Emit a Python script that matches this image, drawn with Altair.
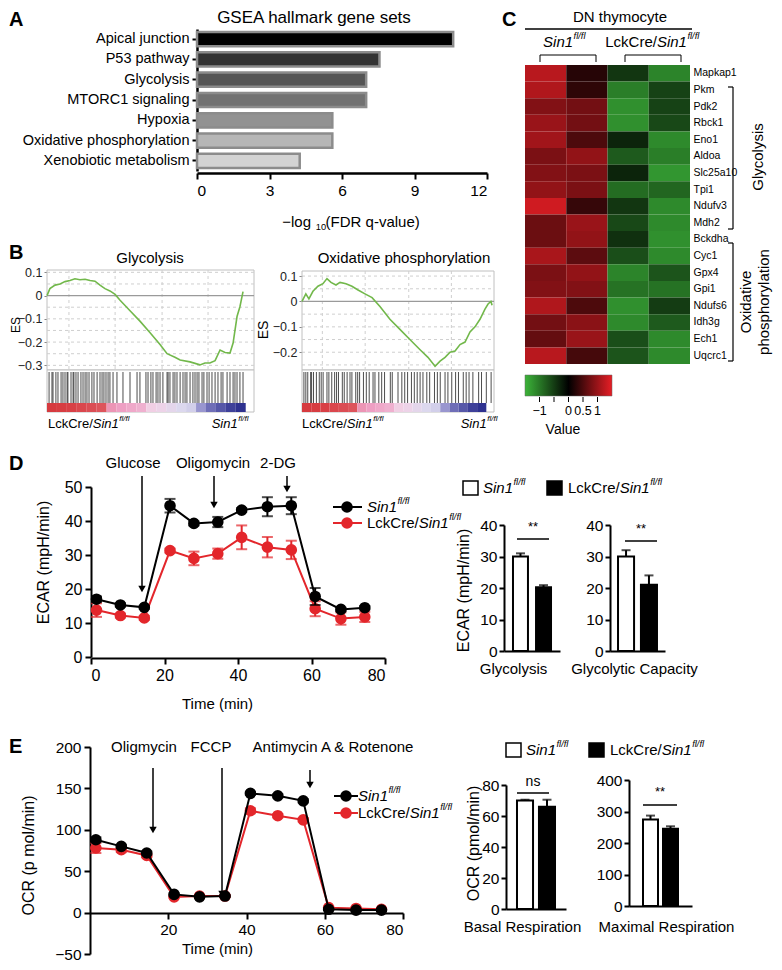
import altair as alt
import pandas as pd

# ---------------- values ----------------
# A: GSEA hallmark gene sets
gsea_sets = ["Apical junction", "P53 pathway", "Glycolysis", "MTORC1 signaling",
             "Hypoxia", "Oxidative phosphorylation", "Xenobiotic metabolism"]
gsea_neglog10_fdr = [10.6, 7.55, 7.0, 7.0, 5.6, 5.6, 4.25]
gsea_ticks = [0, 3, 6, 9, 12]

# B: enrichment plots (rank fraction, running enrichment score)
gly_rank = [0.0, 0.014, 0.039, 0.063, 0.087, 0.111, 0.135, 0.159, 0.184, 0.208, 0.232, 0.256,
            0.280, 0.304, 0.329, 0.353, 0.401, 0.449, 0.498, 0.546, 0.580, 0.618, 0.643, 0.691,
            0.739, 0.763, 0.787, 0.812, 0.836, 0.860, 0.884, 0.899, 0.918, 0.932, 0.947]
gly_es = [0.0, 0.03, 0.045, 0.05, 0.06, 0.065, 0.072, 0.068, 0.07, 0.065, 0.062, 0.045,
          0.03, 0.02, 0.005, -0.02, -0.065, -0.11, -0.16, -0.21, -0.25, -0.265, -0.277, -0.285,
          -0.298, -0.29, -0.29, -0.28, -0.234, -0.245, -0.247, -0.204, -0.09, -0.048, 0.017]
gly_hits = [0.010, 0.024, 0.029, 0.043, 0.053, 0.068, 0.077, 0.087, 0.097, 0.101, 0.116, 0.126,
            0.130, 0.140, 0.150, 0.164, 0.174, 0.184, 0.193, 0.203, 0.217, 0.227, 0.242, 0.256,
            0.266, 0.275, 0.285, 0.295, 0.304, 0.319, 0.338, 0.367, 0.401, 0.435, 0.449, 0.478,
            0.488, 0.502, 0.512, 0.527, 0.536, 0.546, 0.560, 0.580, 0.585, 0.594, 0.609, 0.618,
            0.628, 0.643, 0.657, 0.667, 0.676, 0.691, 0.705, 0.715, 0.725, 0.734, 0.749, 0.758,
            0.773, 0.783, 0.797, 0.812, 0.826, 0.841, 0.850, 0.870, 0.884, 0.899, 0.908, 0.918,
            0.932, 0.947]
oxp_rank = [0.0, 0.02, 0.036, 0.057, 0.083, 0.109, 0.130, 0.151, 0.177, 0.198, 0.229, 0.260,
            0.292, 0.328, 0.365, 0.406, 0.458, 0.51, 0.562, 0.615, 0.656, 0.693, 0.719, 0.745,
            0.771, 0.797, 0.823, 0.849, 0.875, 0.901, 0.927, 0.953, 0.969, 0.984, 0.99]
oxp_es = [0.0, 0.03, 0.01, 0.04, 0.06, 0.07, 0.09, 0.075, 0.065, 0.075, 0.07, 0.06,
          0.045, 0.03, 0.015, -0.02, -0.07, -0.11, -0.15, -0.19, -0.22, -0.255, -0.235, -0.22,
          -0.2, -0.195, -0.17, -0.16, -0.12, -0.1, -0.07, -0.03, -0.01, 0.0, -0.015]
oxp_hits = [0.01, 0.02, 0.03, 0.045, 0.05, 0.06, 0.075, 0.09, 0.1, 0.11, 0.13, 0.14, 0.155, 0.17,
            0.18, 0.19, 0.21, 0.22, 0.235, 0.25, 0.26, 0.28, 0.29, 0.3, 0.32, 0.335, 0.35, 0.37,
            0.38, 0.4, 0.415, 0.43, 0.46, 0.47, 0.5, 0.52, 0.535, 0.55, 0.57, 0.585, 0.6, 0.615,
            0.63, 0.65, 0.665, 0.69, 0.705, 0.72, 0.745, 0.76, 0.78, 0.8, 0.815, 0.84, 0.855,
            0.87, 0.89, 0.92, 0.935, 0.96, 0.985]
es_grid_rank = [0.106, 0.329, 0.556, 0.778]
rank_metric = [1.0, 0.98, 0.95, 0.9, 0.85, 0.8, 0.45, 0.4, 0.35, 0.3,
               0.12, 0.08, 0.04, 0.0, -0.05, -0.35, -0.6, -0.75, -0.9, -1.0]

# C: heat map (z-scores)
genes = ["Mapkap1", "Pkm", "Pdk2", "Rbck1", "Eno1", "Aldoa", "Slc25a10", "Tpi1", "Ndufv3",
         "Mdh2", "Bckdha", "Cyc1", "Gpx4", "Gpi1", "Ndufs6", "Idh3g", "Ech1", "Uqcrc1"]
samples = ["Sin1 #1", "Sin1 #2", "LckCre #1", "LckCre #2"]
z_sin1_a = [1.2, 1.15, 0.85, 1.0, 1.05, 0.8, 0.85, 0.95, 1.35, 0.7, 0.7, 1.1, 0.8, 0.85, 1.15, 0.75, 0.65, 1.2]
z_sin1_b = [0.25, 0.3, 0.75, 0.75, 0.5, 0.95, 0.8, 0.8, 0.35, 1.0, 0.95, 0.6, 0.95, 0.85, 0.5, 0.9, 1.0, 0.45]
z_lck_a = [-0.45, -1.05, -1.2, -1.2, -0.3, -0.75, -0.3, -0.9, -0.45, -0.6, -0.4, -0.65, -1.1, -0.95, -1.2, -1.15, -0.65, -0.7]
z_lck_b = [-1.1, -0.55, -0.55, -0.6, -1.15, -1.05, -1.25, -0.85, -1.15, -1.15, -1.2, -1.15, -0.7, -0.95, -0.5, -0.75, -1.15, -1.15]
z_ticks = [-1, -0.5, 0, 0.5, 1]
z_tick_labels = ["\u22121", "", "0", "0.5", "1"]

# D: ECAR
seahorse_time = [1.5, 8, 14.5, 21.5, 28, 34.5, 41, 48, 54.5, 61, 68, 74.5]
ecar_sin1 = [17.0, 15.3, 14.6, 44.5, 39.3, 39.7, 43.2, 44.2, 44.5, 17.8, 14.0, 14.5]
ecar_sin1_sd = [0.8, 0.5, 0.5, 2.0, 0.6, 1.5, 0.6, 2.8, 2.5, 2.5, 0.5, 0.5]
ecar_lck = [13.8, 12.2, 11.5, 31.3, 29.0, 30.4, 35.2, 32.3, 31.5, 14.2, 11.3, 11.8]
ecar_lck_sd = [2.0, 0.6, 0.6, 0.6, 2.0, 1.5, 3.5, 3.0, 2.7, 2.2, 1.8, 1.5]
glycolysis_mean = [30.0, 20.2]
glycolysis_sd = [1.0, 0.7]
capacity_mean = [30.0, 21.0]
capacity_sd = [2.0, 3.0]

# E: OCR
ocr_sin1 = [88, 80, 72, 22, 19, 20, 144, 141, 135, 4, 3, 3]
ocr_sin1_sd = [3, 2, 2, 1, 1, 1, 2, 2, 2, 1, 1, 1]
ocr_lck = [78, 76, 69, 19, 20, 20, 123, 117, 112, 6, 5, 4]
ocr_lck_sd = [6, 3, 2, 1, 1, 1, 3, 2, 2, 1, 1, 1]
basal_mean = [70.0, 66.0]
basal_sd = [0.5, 4.5]
maximal_mean = [275.0, 245.0]
maximal_sd = [12.0, 8.0]

genotypes = ["Sin1", "LckCre"]

# ---------------- layout helpers ----------------
W, H = 766, 954
FONT = "Liberation Sans"
RED = "#e3262b"
ONE = pd.DataFrame({"k": [0]})


def px(x):
    return x - 8


def py(y):
    return y - 8


AW = {' ': 278, '/': 278, '1': 556, '0': 556, 'C': 722, 'L': 556, 'S': 667, 'c': 500, 'e': 556,
      'f': 278, 'i': 222, 'k': 500, 'l': 222, 'n': 556, 'r': 333, '\u2212': 584, 'o': 556,
      'g': 556, '(': 333, ')': 333, 'F': 611, 'D': 722, 'R': 722, 'q': 556, '-': 333, 'v': 500,
      'a': 556, 'u': 556}


def tw(s, size):
    return sum(AW.get(ch, 556) for ch in s) * size / 1000.0


def T(s, x, y, size=15, align="center", style="normal", weight="normal", angle=0,
      baseline="middle", color="black"):
    return alt.Chart(ONE).mark_text(text=s, font=FONT, fontSize=size, align=align,
                                    baseline=baseline, fontStyle=style, fontWeight=weight,
                                    angle=angle, color=color).encode(
        x=alt.value(px(x)), y=alt.value(py(y)))


def rich(parts, x, y, size=15, anchor="left"):
    ws = []
    for s, k in parts:
        fs = size * 0.62 if k in ("sup", "sub") else size
        ws.append(tw(s, fs))
    total = sum(ws)
    cx = x if anchor == "left" else (x - total / 2 if anchor == "center" else x - total)
    out = []
    for (s, k), w in zip(parts, ws):
        if k == "n":
            out.append(T(s, cx, y, size, align="left"))
        elif k == "i":
            out.append(T(s, cx, y, size, align="left", style="italic"))
        elif k == "sup":
            out.append(T(s, cx + 0.5, y - size * 0.38, size * 0.62, align="left", style="italic"))
        elif k == "sub":
            out.append(T(s, cx + 0.5, y + size * 0.32, size * 0.62, align="left"))
        cx += w
    return out


SIN1 = [("Sin1", "i"), ("fl/fl", "sup")]
LCK = [("LckCre/", "n"), ("Sin1", "i"), ("fl/fl", "sup")]


def S(x1, y1, x2, y2, color="black", w=1.5):
    return alt.Chart(ONE).mark_rule(color=color, strokeWidth=w).encode(
        x=alt.value(px(x1)), x2=alt.value(px(x2)), y=alt.value(py(y1)), y2=alt.value(py(y2)))


def BOX(x1, y1, x2, y2, fill="white", stroke="black", w=1.0, fill_opacity=1.0):
    return alt.Chart(ONE).mark_rect(fill=fill, fillOpacity=fill_opacity, stroke=stroke,
                                    strokeWidth=w).encode(
        x=alt.value(px(x1)), x2=alt.value(px(x2)), y=alt.value(py(y1)), y2=alt.value(py(y2)))


def ARROW(x, y1, y2, w=1.5):
    return [S(x, y1, x, y2 - 5, w=w),
            alt.Chart(ONE).mark_point(shape="triangle-down", filled=True, size=55, color="black",
                                      opacity=1, strokeWidth=0).encode(
                x=alt.value(px(x)), y=alt.value(py(y2 - 3)))]


layers = []

# ---------------- panel letters ----------------
for s, x, y, b in [("A", 9, 10, "top"), ("B", 9, 253, "middle"), ("C", 502, 10, "top"),
                   ("D", 9, 464, "middle"), ("E", 9, 747, "middle")]:
    layers.append(T(s, x, y, size=20, align="left", weight="bold", baseline=b))

# ---------------- A ----------------
A_PALETTE = ["#000000", "#333333", "#555555", "#727272", "#929292", "#b6b6b6", "#d3d3d3"]
dfA = pd.DataFrame({"set": gsea_sets, "score": gsea_neglog10_fdr})
xA = alt.Scale(domain=[0, 12], range=[px(197), px(487)], nice=False, zero=True)
yA = alt.Scale(domain=gsea_sets, range=[py(29), py(171)], paddingInner=0.3, paddingOuter=0.15)
layers.append(alt.Chart(dfA).mark_bar(stroke="#8c8c8c", strokeWidth=2.5).encode(
    x=alt.X("score:Q", scale=xA,
            axis=alt.Axis(orient="bottom", offset=py(173) - H, values=gsea_ticks, title=None,
                          labelFontSize=15.5, tickSize=6, labelPadding=4, domainWidth=2.5)),
    y=alt.Y("set:N", scale=yA,
            axis=alt.Axis(orient="left", offset=-px(197), title=None, labelFontSize=14.5,
                          tickSize=5, labelPadding=3, domainWidth=2.5)),
    fill=alt.Fill("set:N", scale=alt.Scale(domain=gsea_sets, range=A_PALETTE), legend=None)))
layers.append(T("GSEA hallmark gene sets", 314, 10, size=17, baseline="top"))
layers += rich([("\u2212log ", "n"), ("10", "sub"), ("(FDR q-value)", "n")], 351, 222, size=15,
               anchor="center")


# ---------------- B ----------------
def gsea_layers(rank, es, hits, dom, ticks, grid_y, x0, x1, ytop, ybot):
    xs = alt.Scale(domain=[0, 1], range=[px(x0), px(x1)], nice=False, zero=False)
    ys = alt.Scale(domain=dom, range=[py(ybot), py(ytop)], nice=False, zero=False)
    g = []
    g.append(alt.Chart(pd.DataFrame({"g": grid_y})).mark_rule(
        color="#cfcfcf", strokeDash=[3, 3], strokeWidth=1).encode(
        y=alt.Y("g:Q", scale=ys, axis=None), x=alt.value(px(x0)), x2=alt.value(px(x1))))
    g.append(alt.Chart(pd.DataFrame({"g": es_grid_rank})).mark_rule(
        color="#cfcfcf", strokeDash=[3, 3], strokeWidth=1).encode(
        x=alt.X("g:Q", scale=xs, axis=None), y=alt.value(py(ytop)), y2=alt.value(py(ybot))))
    g.append(alt.Chart(pd.DataFrame({"g": [0.0]})).mark_rule(color="#9a9a9a", strokeWidth=1.2).encode(
        y=alt.Y("g:Q", scale=ys, axis=None), x=alt.value(px(x0)), x2=alt.value(px(x1))))
    g.append(alt.Chart(pd.DataFrame({"h": hits})).mark_rule(
        color="#111111", strokeWidth=1, opacity=0.75).encode(
        x=alt.X("h:Q", scale=xs, axis=None), y=alt.value(py(ybot + 2)), y2=alt.value(py(ybot + 33))))
    n = len(rank_metric)
    cells = pd.DataFrame({"a": [i * 0.96 / n for i in range(n)],
                          "b": [(i + 1) * 0.96 / n for i in range(n)],
                          "m": rank_metric})
    g.append(alt.Chart(cells).mark_rect().encode(
        x=alt.X("a:Q", scale=xs, axis=None), x2="b:Q",
        y=alt.value(py(ybot + 33)), y2=alt.value(py(ybot + 42)),
        color=alt.Color("m:Q", legend=None, scale=alt.Scale(
            domain=[-1, -0.4, 0, 0.1, 0.4, 0.75, 1],
            range=["#2e318f", "#8f8dcb", "#dcd8ee", "#f1d2e6", "#ee9fc3", "#df5a62", "#d63a3f"],
            interpolate="rgb"))))
    g.append(alt.Chart(pd.DataFrame({"r": rank, "es": es})).mark_line(
        color="#72b84b", strokeWidth=1.6).encode(
        x=alt.X("r:Q", scale=xs, axis=None),
        y=alt.Y("es:Q", scale=ys,
                axis=alt.Axis(orient="left", offset=-px(x0), values=ticks, format=".1~f",
                              title=None, domain=False, tickSize=3, tickWidth=1,
                              tickColor="#888888", labelFontSize=12.5, labelPadding=2,
                              labelColor="#222222"))))
    return g


layers.append(BOX(47, 270, 254, 370, stroke="#c0c0c0"))
layers.append(BOX(47, 370, 254, 412, stroke="#c0c0c0"))
layers += gsea_layers(gly_rank, gly_es, gly_hits, [-0.32, 0.11], [0.1, 0, -0.1, -0.2, -0.3],
                      [0.1, 0.05, -0.05, -0.1, -0.15, -0.2, -0.25, -0.3], 47, 254, 270, 370)
layers.append(BOX(302, 271, 494, 370, stroke="#c0c0c0", fill_opacity=0))
layers.append(BOX(302, 370, 494, 412, stroke="#c0c0c0"))
layers += gsea_layers(oxp_rank, oxp_es, oxp_hits, [-0.27, 0.12], [0.1, 0, -0.1, -0.2],
                      [0.1, 0.05, -0.05, -0.1, -0.15, -0.2, -0.25], 302, 494, 271, 370)
layers.append(T("Glycolysis", 150, 258, size=15))
layers.append(T("Oxidative phosphorylation", 404, 258, size=15))
layers.append(T("ES", 16, 325, size=12, angle=270))
layers.append(T("ES", 264, 330, size=14, angle=270))
layers += rich(LCK, 48, 424, size=13)
layers += rich(SIN1, 248, 424, size=13, anchor="right")
layers += rich(LCK, 302, 424, size=13)
layers += rich(SIN1, 497, 424, size=13, anchor="right")

# ---------------- C ----------------
rows = []
for i, gname in enumerate(genes):
    for s, col in zip(samples, [z_sin1_a, z_sin1_b, z_lck_a, z_lck_b]):
        rows.append({"gene": gname, "sample": s, "z": col[i]})
dfC = pd.DataFrame(rows)
xC = alt.Scale(domain=samples, range=[px(525), px(690)], paddingInner=0, paddingOuter=0)
yC = alt.Scale(domain=genes, range=[py(65), py(364)], paddingInner=0, paddingOuter=0)
zC = alt.Scale(domain=[-1.5, 0, 1.5], range=["#3cb439", "#000000", "#e61e25"], interpolate="rgb")
layers.append(alt.Chart(dfC).mark_rect().encode(
    x=alt.X("sample:N", scale=xC, axis=None),
    y=alt.Y("gene:N", scale=yC,
            axis=alt.Axis(orient="right", offset=px(690) - W, domain=False, ticks=False,
                          labelFontSize=10.5, labelPadding=3, title=None)),
    color=alt.Color("z:Q", scale=zC,
                    legend=alt.Legend(orient="none", legendX=px(525), legendY=py(375),
                                      direction="horizontal", gradientLength=87,
                                      gradientThickness=21, title=None, labelOpacity=0,
                                      labelFontSize=1,
                                      gradientStrokeColor="#666666", gradientStrokeWidth=0.5))))
# colour-bar ticks and labels placed on the same value axis as the gradient
zbar = alt.Scale(domain=[-1.5, 1.5], range=[px(525), px(612)], nice=False, zero=False)
dfZ = pd.DataFrame({"v": z_ticks, "lab": z_tick_labels})
layers.append(alt.Chart(dfZ).mark_rule(color="black", strokeWidth=1).encode(
    x=alt.X("v:Q", scale=zbar, axis=None), y=alt.value(py(397)), y2=alt.value(py(402))))
layers.append(alt.Chart(dfZ).mark_text(font=FONT, fontSize=12.5, baseline="middle").encode(
    x=alt.X("v:Q", scale=zbar, axis=None), y=alt.value(py(411)), text="lab:N"))
layers.append(T("Value", 563, 430, size=14))
layers.append(T("DN thymocyte", 620, 10, size=15, baseline="top"))
layers.append(S(525, 29, 692, 29, w=1.5))
layers += rich(SIN1, 564, 42, size=15, anchor="center")
layers += rich(LCK, 652, 42, size=15, anchor="center")
for a, b in [(540, 596), (625, 681)]:
    layers += [S(a, 55, b, 55, w=1), S(a, 55, a, 62, w=1), S(b, 55, b, 62, w=1)]
for a, b in [(87, 229), (243, 361)]:
    layers += [S(733, a, 733, b, w=1.2), S(728, a, 733, a, w=1.2), S(728, b, 733, b, w=1.2)]
layers.append(T("Glycolysis", 758, 157, size=15, angle=270))
layers.append(T("Oxidative", 746, 302, size=15, angle=270))
layers.append(T("phosphorylation", 764, 302, size=15, angle=270))


# ---------------- D / E line charts ----------------
def seahorse(series, xr, yr, ydom, yticks, xticks, xaxis_y, ytitle, ytitle_x, ytitle_y,
             xtitle_x, xtitle_y, label_size=16):
    xs = alt.Scale(domain=[0, 80], range=[px(xr[0]), px(xr[1])], nice=False, zero=False)
    ys = alt.Scale(domain=ydom, range=[py(yr[0]), py(yr[1])], nice=False, zero=False)
    g = []
    last = len(series) - 1
    for k, (mean, sd, col) in enumerate(series):
        df = pd.DataFrame({"t": seahorse_time, "m": mean,
                           "lo": [m - s for m, s in zip(mean, sd)],
                           "hi": [m + s for m, s in zip(mean, sd)]})
        if k == last:
            xax = alt.Axis(orient="bottom", offset=py(xaxis_y) - H, values=xticks,
                           title="Time (min)", titleX=px(xtitle_x), titleY=xtitle_y - xaxis_y,
                           titleBaseline="middle", titleAlign="center", titleFontSize=15,
                           labelFontSize=label_size, tickSize=6, labelPadding=3)
            yax = alt.Axis(orient="left", offset=-px(xr[0]), values=yticks, title=ytitle,
                           titleX=ytitle_x - xr[0], titleY=py(ytitle_y), titleBaseline="middle",
                           titleAlign="center", titleFontSize=16, labelFontSize=label_size,
                           tickSize=6, labelPadding=3)
        else:
            xax = None
            yax = None
        g.append(alt.Chart(df).mark_rule(color=col, strokeWidth=2).encode(
            x=alt.X("t:Q", scale=xs, axis=None), y=alt.Y("lo:Q", scale=ys, axis=None), y2="hi:Q"))
        for f in ["lo", "hi"]:
            g.append(alt.Chart(df).mark_tick(color=col, orient="horizontal", size=11,
                                             thickness=2).encode(
                x=alt.X("t:Q", scale=xs, axis=None), y=alt.Y(f + ":Q", scale=ys, axis=None)))
        g.append(alt.Chart(df).mark_line(color=col, strokeWidth=2).encode(
            x=alt.X("t:Q", scale=xs, axis=None), y=alt.Y("m:Q", scale=ys, axis=None)))
        g.append(alt.Chart(df).mark_point(color=col, filled=True, size=135, opacity=1).encode(
            x=alt.X("t:Q", scale=xs, axis=xax), y=alt.Y("m:Q", scale=ys, axis=yax)))
    return g


layers += seahorse([(ecar_lck, ecar_lck_sd, RED), (ecar_sin1, ecar_sin1_sd, "black")],
                   (91, 385), (657, 487), [0, 50], [0, 10, 20, 30, 40, 50],
                   [0, 20, 40, 60, 80], 658, "ECAR (mpH/min)", 43, 562, 217, 703)
for s, x in [("Glucose", 133), ("Oligomycin", 213), ("2-DG", 278)]:
    layers.append(T(s, x, 463, size=15))
layers += ARROW(142, 476, 592)
layers += ARROW(214, 476, 508)
layers += ARROW(287, 476, 492)


def line_legend(x0, x1, xc, xt, y1, y2):
    out = []
    for y, col, parts in [(y1, "black", SIN1), (y2, RED, LCK)]:
        out.append(S(x0, y, x1, y, color=col, w=2))
        out.append(alt.Chart(ONE).mark_point(color=col, filled=True, size=135, opacity=1).encode(
            x=alt.value(px(xc)), y=alt.value(py(y))))
        out += rich(parts, xt, y, size=15)
    return out


layers += line_legend(333, 362, 347, 367, 507, 523)

layers += seahorse([(ocr_lck, ocr_lck_sd, RED), (ocr_sin1, ocr_sin1_sd, "black")],
                   (90, 403), (954, 747), [-50, 200], [-50, 0, 50, 100, 150, 200],
                   [20, 40, 60, 80], 913, "OCR (p mol/min)", 28, 855, 217, 948, label_size=15.5)
for s, x in [("Oligmycin", 144), ("FCCP", 211), ("Antimycin A & Rotenone", 333)]:
    layers.append(T(s, x, 747, size=15))
layers += ARROW(153, 768, 833)
layers += ARROW(222, 768, 897)
layers += ARROW(310, 770, 788)
layers += line_legend(334, 358, 346, 358, 796, 813)


# ---------------- bar charts ----------------
def bar_layers(means, sds, xr, inner, outer, ydom, yr, yticks, title, title_x, title_y,
               ytitle=None, ytitle_x=0, ytitle_y=0):
    df = pd.DataFrame({"g": genotypes, "m": means, "hi": [m + s for m, s in zip(means, sds)]})
    xs = alt.Scale(domain=genotypes, range=[px(xr[0]), px(xr[1])], paddingInner=inner,
                   paddingOuter=outer)
    ys = alt.Scale(domain=ydom, range=[py(yr[0]), py(yr[1])], nice=False, zero=True)
    yax_kw = dict(orient="left", offset=-px(xr[0]), values=yticks, labelFontSize=15.5,
                  tickSize=5, labelPadding=2)
    if ytitle:
        yax_kw.update(title=ytitle, titleX=ytitle_x - xr[0], titleY=py(ytitle_y),
                      titleBaseline="middle", titleAlign="center", titleFontSize=16)
    else:
        yax_kw.update(title=None)
    g = []
    g.append(alt.Chart(df).mark_rule(color="black", strokeWidth=2).encode(
        x=alt.X("g:N", scale=xs, axis=None), y=alt.Y("m:Q", scale=ys, axis=None), y2="hi:Q"))
    g.append(alt.Chart(df).mark_tick(color="black", orient="horizontal", size=9,
                                     thickness=2).encode(
        x=alt.X("g:N", scale=xs, axis=None), y=alt.Y("hi:Q", scale=ys, axis=None)))
    g.append(alt.Chart(df).mark_bar(stroke="black", strokeWidth=2).encode(
        x=alt.X("g:N", scale=xs,
                axis=alt.Axis(orient="bottom", offset=py(yr[0]) - H, labels=False, ticks=False,
                              title=title, titleX=px(title_x), titleY=title_y - yr[0],
                              titleBaseline="middle", titleAlign="center", titleFontSize=15)),
        y=alt.Y("m:Q", scale=ys, axis=alt.Axis(**yax_kw)),
        fill=alt.Fill("g:N", scale=alt.Scale(domain=genotypes, range=["white", "black"]),
                      legend=None)))
    return g


layers += bar_layers(glycolysis_mean, glycolysis_sd, (504, 560), 0.35, 0.39, [0, 40],
                     (651, 525), [0, 10, 20, 30, 40], "Glycolysis", 513, 668,
                     "ECAR (mpH/min)", 463, 590)
layers += bar_layers(capacity_mean, capacity_sd, (610, 665), 0.30, 0.35, [0, 40],
                     (651, 525), [0, 10, 20, 30, 40], "Glycolytic Capacity", 634, 668)
layers += bar_layers(basal_mean, basal_sd, (506, 566), 0.27, 0.5, [0, 80],
                     (909, 785), [0, 20, 40, 60, 80], "Basal Respiration", 522, 926,
                     "OCR (pmol/min)", 473, 843)
layers += bar_layers(maximal_mean, maximal_sd, (629, 692), 0.25, 0.7, [0, 400],
                     (906, 780), [0, 100, 200, 300, 400], "Maximal Respiration", 666, 926)

# significance marks
for x1, x2, y, lab, ly in [(517, 549, 539, "**", 527), (625, 657, 541, "**", 529),
                           (517, 549, 793, "ns", 782), (643, 677, 805, "**", 792)]:
    layers.append(S(x1, y, x2, y, w=1.5))
    layers.append(T(lab, (x1 + x2) / 2, ly, size=14 if lab == "ns" else 13))


# bar legends
def box_legend(x_white, x_black, y):
    out = [BOX(x_white, y - 7, x_white + 15, y + 7, fill="white", stroke="black", w=1.5),
           BOX(x_black, y - 7, x_black + 15, y + 7, fill="black", stroke="black", w=1.5)]
    out += rich(SIN1, x_white + 20, y, size=15)
    out += rich(LCK, x_black + 21, y, size=15)
    return out


layers += box_legend(463, 547, 488)
layers += box_legend(506, 589, 750)

chart = alt.layer(*layers).resolve_scale(
    x="independent", y="independent", color="independent", fill="independent"
).properties(
    width=W, height=H, padding=0, autosize=alt.AutoSizeParams(type="none"), background="white"
).configure_view(stroke=None).configure_axis(
    grid=False, domainColor="black", tickColor="black", labelColor="black", titleColor="black",
    labelFont=FONT, titleFont=FONT, titleFontWeight="normal", domainWidth=2, tickWidth=2
)

chart.save("out.html", embed_options={"renderer": "svg", "actions": False})
